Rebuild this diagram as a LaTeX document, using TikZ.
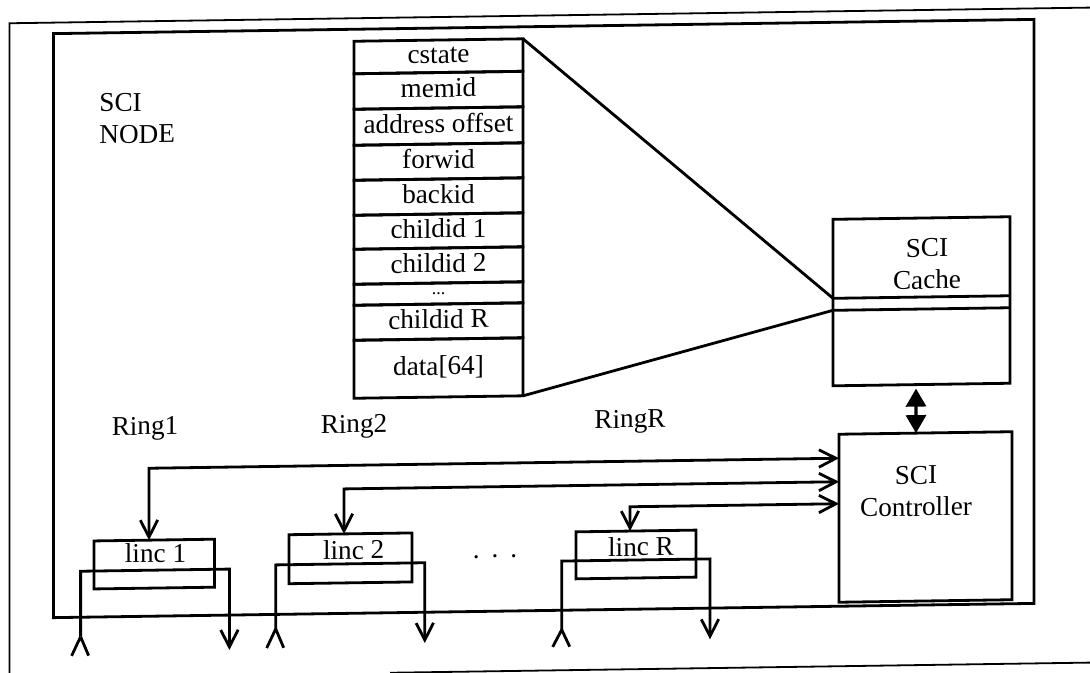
\documentclass[tikz,border=0pt]{standalone}
\usepackage{fontspec}
\setmainfont{Liberation Serif}
\usetikzlibrary{arrows.meta}
\newdimen\pxu \pxu=0.5pt
\tikzset{
  ln/.style={line width=1.4pt},
  frameline/.style={line width=0.9pt},
  box/.style={draw, line width=1.4pt, inner sep=0pt, outer sep=0pt, anchor=north west},
  cell/.style={draw, line width=1.4pt, inner sep=0pt, outer sep=0pt, anchor=north,
    minimum width={169*\pxu}, text height=0.68em, text depth=0pt},
  txt/.style={inner sep=0pt, align=center},
  dbl/.style={line width=1.6pt, {Triangle[length=9pt,width=10pt]}-{Triangle[length=9pt,width=10pt]}},
  caret/.style={line width=1.4pt}
}
\begin{document}
\begin{tikzpicture}[x=0.5pt,y=-0.5pt,font=\fontsize{13.6}{16}\selectfont,
  >={Straight Barb[length=8.5pt,width=8.7pt]}]
\useasboundingbox (0,0) rectangle (1090,673);
\begin{scope}[transform canvas={shift={(0,7.9)},yslant=0.0145}]
% outer page border
\coordinate (bTL) at (9.5,15.5);
\coordinate (bTR) at (1090,15.5);
\coordinate (bBL) at (9.5,665);
\coordinate (bB1) at (390,670.5);
\coordinate (bB2) at (1090,670.5);
\draw[frameline] (bBL) -- (bTL) -- (bTR);
\draw[frameline] (bB1) -- (bB2);

% SCI node frame
\node[box, minimum width={980.5*\pxu}, minimum height={584*\pxu}] (sci) at (53.5,26.5) {};
\node[txt, anchor=west, align=left] (scilbl) at (99,112.5) {SCI\\NODE};

% cache line table
\node[cell, minimum height={32.5*\pxu}] (r1) at (438.5,38.5) {cstate};
\node[cell, minimum height={35.5*\pxu}] (r2) at (438.5,71) {memid};
\node[cell, minimum height={36*\pxu}] (r3) at (438.5,106.5) {address offset};
\node[cell, minimum height={35*\pxu}] (r4) at (438.5,142.5) {forwid};
\node[cell, minimum height={35*\pxu}] (r5) at (438.5,177.5) {backid};
\node[cell, minimum height={34*\pxu}] (r6) at (438.5,212.5) {childid 1};
\node[cell, minimum height={35*\pxu}] (r7) at (438.5,246.5) {childid 2};
\node[cell, minimum height={21*\pxu}, font=\fontsize{9}{10}\selectfont, text height=0.1em] (r8) at (438.5,281.5) {...};
\node[cell, minimum height={35*\pxu}] (r9) at (438.5,302.5) {childid R};
\node[cell, minimum height={58*\pxu}] (r10) at (438.5,337.5) {data[64]};

% SCI cache
\node[box, minimum width={177*\pxu}, minimum height={166.5*\pxu}] (cache) at (833,223.5) {};
\node[txt] (cachelbl) at (927,269.5) {SCI\\Cache};
\coordinate (cs1) at (833,302.5);
\coordinate (cs2) at (833,314.5);
\draw[ln] (cs1) -- (cs1 -| cache.east);
\draw[ln] (cs2) -- (cs2 -| cache.east);
\draw[ln] (r1.north east) -- (cs1);
\draw[ln] (r10.south east) -- (cs2);

% SCI controller
\node[box, minimum width={173*\pxu}, minimum height={168*\pxu}] (ctrl) at (839,438.5) {};
\node[txt] (ctrllbl) at (916,496.5) {SCI\\Controller};
\coordinate (dx) at (916,400);
\draw[dbl, shorten <=2pt] (dx |- cache.south) -- (dx |- ctrl.north);

% ring labels
\node[txt] (ring1) at (145,423) {Ring1};
\node[txt] (ring2) at (354,424) {Ring2};
\node[txt] (ringR) at (630,423) {RingR};

% link controllers
\node[box, minimum width={120.5*\pxu}, minimum height={48*\pxu}] (linc1) at (94,534.4) {};
\node[txt] (tl1) at (155.5,547.5) {linc 1};
\node[box, minimum width={123*\pxu}, minimum height={49*\pxu}] (linc2) at (289,531) {};
\node[txt] (tl2) at (353.7,547) {linc 2};
\node[box, minimum width={120*\pxu}, minimum height={47*\pxu}] (lincR) at (576,532.3) {};
\node[txt] (tlR) at (641,548) {linc R};
\node[txt, text height=0.1em, text depth=0pt] (dots) at (495,556) {.\kern6pt.\kern6pt.};

% controller <-> linc connections
\coordinate (w1) at (149,462.5);
\coordinate (w2) at (344,486);
\coordinate (w3) at (630,508);
\draw[ln,<->] (w1 |- linc1.north) -- (w1) -- (w1 -| ctrl.west);
\draw[ln,<->] (w2 |- linc2.north) -- (w2) -- (w2 -| ctrl.west);
\draw[ln,<->] (w3 |- lincR.north) -- (w3) -- (w3 -| ctrl.west);

% ring wires
\coordinate (in1) at (80.6,630);   \coordinate (h1) at (155,564.5); \coordinate (out1) at (229.4,645.4);
\coordinate (in2) at (275.7,625);  \coordinate (h2) at (350,561);   \coordinate (out2) at (424.8,641.3);
\coordinate (inR) at (561.7,630);  \coordinate (hR) at (636,561.3); \coordinate (outR) at (710,641.7);
\draw[ln,->] (in1) |- (h1) -| (out1);
\draw[ln,->] (in2) |- (h2) -| (out2);
\draw[ln,->] (inR) |- (hR) -| (outR);
\draw[caret] (in1) -- ++(-9,19) (in1) -- ++(8,19);
\draw[caret] (in2) -- ++(-9,19) (in2) -- ++(8,19);
\draw[caret] (inR) -- ++(-9,17) (inR) -- ++(8,17);
\end{scope}
\end{tikzpicture}
\end{document}
